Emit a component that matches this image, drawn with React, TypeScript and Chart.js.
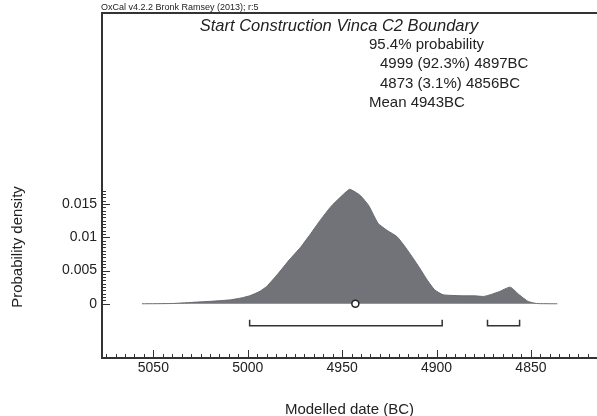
import React, { useEffect, useRef } from "react";
import { Chart, registerables } from "chart.js";

Chart.register(...registerables);

// ---- Data ----
const densityYears = [5056, 5040, 5027, 5018, 5009, 5003, 4999, 4994, 4990, 4984, 4978, 4972, 4967, 4962, 4956, 4951, 4946, 4940.5, 4936, 4931, 4926, 4921, 4917, 4913, 4909, 4905, 4901, 4896.5, 4886, 4880, 4875, 4871, 4867, 4861, 4856, 4851.5, 4847, 4836];
const densityValues = [0, 0.00004, 0.00025, 0.0004, 0.0006, 0.0009, 0.0012, 0.0018, 0.0026, 0.0045, 0.0066, 0.0085, 0.0104, 0.0124, 0.0146, 0.016, 0.0172, 0.0163, 0.0148, 0.0121, 0.011, 0.0101, 0.0087, 0.0071, 0.0054, 0.0036, 0.0021, 0.00135, 0.0012, 0.0012, 0.0011, 0.0014, 0.0018, 0.0025, 0.0013, 0.00035, 0.00004, 0];
const rangeFrom = [4999, 4873];
const rangeTo = [4897, 4856];
const meanYear = 4943;
const xMajorTicks = [5050, 5000, 4950, 4900, 4850];
const xTickLabels = ["5050", "5000", "4950", "4900", "4850"];
const yMajorTicks = [0, 0.005, 0.01, 0.015];
const yTickLabels = ["0", "0.005", "0.01", "0.015"];
const headerText = "OxCal v4.2.2 Bronk Ramsey (2013); r:5";
const titleText = "Start Construction Vinca C2 Boundary";
const infoLines = ["95.4% probability", "4999 (92.3%) 4897BC", "4873 (3.1%) 4856BC", "Mean 4943BC"];
const infoIndent = [0, 1, 1, 0];
const xTitle = "Modelled date (BC)";
const yTitle = "Probability density";

const FONT = "'Liberation Sans', Arial, Helvetica, sans-serif";
const TEXT = "#222";
const AXIS = "#333";
const FILL = "#727378";

const overlay = {
  id: "oxcalOverlay",
  afterDatasetsDraw(chart: any) {
    const { ctx, chartArea, scales } = chart;
    const xs = scales.x;
    const ys = scales.y;
    const L = chartArea.left, R = chartArea.right, T = chartArea.top, B = chartArea.bottom;
    ctx.save();
    // frame
    ctx.strokeStyle = AXIS;
    ctx.lineWidth = 2;
    ctx.beginPath();
    ctx.moveTo(R + 2, T);
    ctx.lineTo(L, T);
    ctx.lineTo(L, B);
    ctx.lineTo(R + 2, B);
    ctx.stroke();

    // x ticks
    ctx.lineWidth = 1;
    ctx.beginPath();
    const x0 = Math.ceil(xs.min / 5) * 5;
    for (let v = x0; v <= xs.max; v += 5) {
      const px = Math.round(xs.getPixelForValue(v)) + 0.5;
      const major = v % 50 === 0;
      ctx.moveTo(px, B);
      ctx.lineTo(px, B - (major ? 8 : 4));
    }
    // y ticks
    for (let i = 0; i <= 34; i++) {
      const v = i * 0.0005;
      const py = Math.round(ys.getPixelForValue(v)) + 0.5;
      const major = i % 10 === 0;
      ctx.moveTo(L, py);
      ctx.lineTo(L + (major ? 8 : 4), py);
    }
    ctx.stroke();

    // tick labels
    ctx.fillStyle = TEXT;
    ctx.font = `14px ${FONT}`;
    ctx.textAlign = "center";
    ctx.textBaseline = "middle";
    xMajorTicks.forEach((v, i) => {
      ctx.fillText(xTickLabels[i], xs.getPixelForValue(v), B + 10);
    });
    ctx.textAlign = "right";
    yMajorTicks.forEach((v, i) => {
      ctx.fillText(yTickLabels[i], L - 5, ys.getPixelForValue(v));
    });

    // axis titles
    ctx.font = `15px ${FONT}`;
    ctx.textAlign = "center";
    ctx.fillText(xTitle, (L + R) / 2, 410);
    ctx.save();
    ctx.translate(18, 247);
    ctx.rotate(-Math.PI / 2);
    ctx.fillText(yTitle, 0, 0);
    ctx.restore();

    // header
    ctx.font = `9px ${FONT}`;
    ctx.textAlign = "left";
    ctx.fillText(headerText, L - 1, 8);

    // title
    ctx.font = `italic 16.5px ${FONT}`;
    ctx.textAlign = "center";
    ctx.fillText(titleText, 339, 26);

    // info block
    ctx.font = `15px ${FONT}`;
    ctx.textAlign = "left";
    infoLines.forEach((s, i) => {
      ctx.fillText(s, 369 + infoIndent[i] * 11, 45 + i * 19.2);
    });
    ctx.restore();
  },
};

export default function App() {
  const ref = useRef<HTMLCanvasElement | null>(null);
  useEffect(() => {
    document.body.style.margin = "0";
    const canvas = ref.current!;
    const density = densityYears.map((x, i) => ({ x, y: densityValues[i] }));
    const bracketSets = rangeFrom.map((f, i) => ({
      type: "line" as const,
      data: [
        { x: f, y: -0.0024 },
        { x: f, y: -0.0033 },
        { x: rangeTo[i], y: -0.0033 },
        { x: rangeTo[i], y: -0.0024 },
      ],
      borderColor: "#333",
      borderWidth: 1.5,
      pointRadius: 0,
      fill: false,
      tension: 0,
      order: 2,
    }));
    const chart = new Chart(canvas, {
      type: "line",
      data: {
        datasets: [
          {
            data: density,
            borderColor: "#6a6b70",
            backgroundColor: FILL,
            borderWidth: 1,
            pointRadius: 0,
            fill: "origin",
            tension: 0.15,
            order: 3,
          },
          ...bracketSets,
          {
            type: "scatter" as any,
            data: [{ x: meanYear, y: 0 }],
            pointRadius: 3.5,
            pointBackgroundColor: "#fff",
            pointBorderColor: "#222",
            pointBorderWidth: 1.5,
            showLine: false,
            order: 0,
          } as any,
        ],
      },
      options: {
        animation: false,
        responsive: false,
        maintainAspectRatio: false,
        layout: { autoPadding: false, padding: { left: 102, top: 13, right: 0, bottom: 58 } },
        plugins: { legend: { display: false }, tooltip: { enabled: false } },
        scales: {
          x: { type: "linear", reverse: true, min: 4815, max: 5077.2, display: false },
          y: { type: "linear", min: -0.00815, max: 0.0437, display: false },
        },
      },
      plugins: [overlay],
    });
    return () => chart.destroy();
  }, []);
  return <canvas ref={ref} width={597} height={416} style={{ display: "block" }} />;
}
